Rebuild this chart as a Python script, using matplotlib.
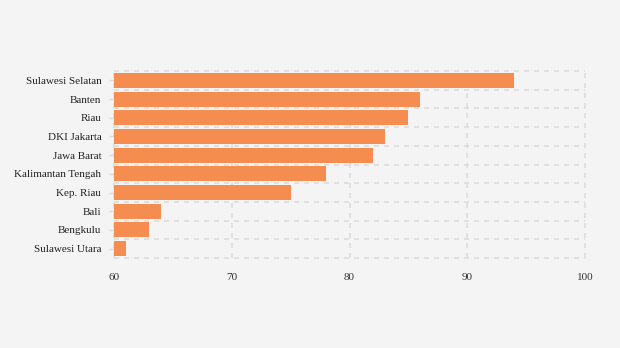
import matplotlib
matplotlib.use("Agg")
import matplotlib.pyplot as plt
import numpy as np

categories = ["Sulawesi Selatan", "Banten", "Riau", "DKI Jakarta", "Jawa Barat",
              "Kalimantan Tengah", "Kep. Riau", "Bali", "Bengkulu", "Sulawesi Utara"]
values = [94, 86, 85, 83, 82, 78, 75, 64, 63, 61]
xticks = [60, 70, 80, 90, 100]

plt.rcParams['font.family'] = ['Liberation Serif', 'DejaVu Serif']

fig = plt.figure(figsize=(6.2, 3.48), dpi=100, facecolor="#f4f4f4")
ax = fig.add_axes([114/620, 1-258/348, (585-114)/620, (258-71)/348])
ax.set_facecolor("#f4f4f4")

y = np.arange(len(categories))
ax.barh(y, values, height=0.8, color="#F58D50", zorder=3)

ax.set_xlim(60, 100)
ax.set_ylim(len(categories) - 0.5, -0.5)
ax.set_xticks(xticks)
ax.set_xticklabels([str(t) for t in xticks], fontsize=8, color="#333333")
ax.set_yticks(y)
ax.set_yticklabels(categories, fontsize=8, color="#222222")

ax.tick_params(axis="x", length=0, pad=11)
ax.tick_params(axis="y", which="major", length=3.6, color="#dddddd", width=1, pad=5.5)

for s in ax.spines.values():
    s.set_visible(False)

grid_kw = dict(color="#dddddd", linestyle=(0, (3, 3)), linewidth=1.2, zorder=0, clip_on=False)
for t in xticks:
    ax.axvline(t, **grid_kw)
for b in np.arange(len(categories) + 1) - 0.5:
    ax.axhline(b, **grid_kw)

fig.savefig("out.png", dpi=100, facecolor="#f4f4f4")
